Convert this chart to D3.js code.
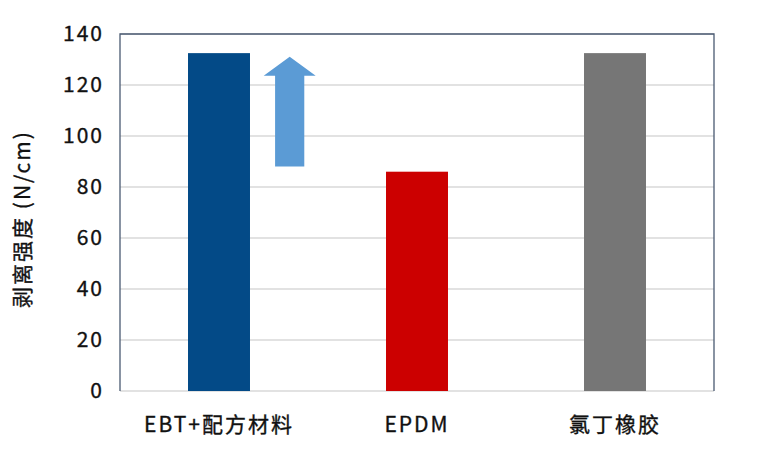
<!DOCTYPE html>
<html><head><meta charset="utf-8">
<script src="https://cdn.jsdelivr.net/npm/d3@7"></script>
<style>
body{margin:0;background:#fff;}
text{font-family:"Noto Sans CJK SC","Noto Sans",sans-serif;}
</style></head>
<body><svg id="c" width="765" height="454"></svg>
<script>
const categories = ["EBT+配方材料", "EPDM", "氯丁橡胶"];
const values = [132.5, 86, 132.5];
const barColors = ["#034a87", "#cc0000", "#767676"];
const yTicks = [0, 20, 40, 60, 80, 100, 120, 140];
const yTitle = "剥离强度 (N/cm)";
// arrow: position (in category-index units) and value range
const arrowPos = [0.357];
const arrowRange = [88, 123.6, 131.1]; // bottom, head base, tip

const svg = d3.select("#c");
const m = {l:120, t:34, r:51, b:63};
const W = 765, H = 454;
const x = d3.scaleBand().domain(categories).range([m.l, W-m.r]).paddingInner(0.687).paddingOuter(0.3435);
const y = d3.scaleLinear().domain([0,140]).range([H-m.b, m.t]);
const xi = d3.scaleLinear().domain([0, categories.length]).range([m.l, W-m.r]);
const FONT = '"Noto Sans CJK SC","Noto Sans",sans-serif';

// gridlines
svg.append("g").selectAll("line").data(yTicks).join("line")
  .attr("x1", m.l).attr("x2", W-m.r)
  .attr("y1", d=>y(d)).attr("y2", d=>y(d))
  .attr("stroke", "#d9d9d9").attr("stroke-width", 1.3);

// bars
svg.append("g").selectAll("rect").data(values).join("rect")
  .attr("x", (d,i)=>x(categories[i]))
  .attr("width", x.bandwidth())
  .attr("y", d=>y(d))
  .attr("height", d=>y(0)-y(d))
  .attr("fill", (d,i)=>barColors[i]);

// frame (left, top, right)
svg.append("path")
  .attr("d", `M${m.l},${y(0)}V${y(140)}H${W-m.r}V${y(0)}`)
  .attr("fill","none").attr("stroke","#4a5a72").attr("stroke-width",1.3);

// arrow
const ac = xi(arrowPos[0] + 0.5);
const sw = 14.6, hw = 26;
svg.append("path")
  .attr("d", `M${ac-sw},${y(arrowRange[0])}V${y(arrowRange[1])}H${ac-hw}L${ac},${y(arrowRange[2])}L${ac+hw},${y(arrowRange[1])}H${ac+sw}V${y(arrowRange[0])}Z`)
  .attr("fill", "#5b9bd5");

function styleText(sel, size){
  sel.attr("font-size", size).attr("fill", "#111").attr("letter-spacing", "2px")
    .attr("stroke", "#111").attr("stroke-width", 0.35)
    .style("font-family", FONT);
}

// y axis labels
const yAxis = d3.axisLeft(y).tickValues(yTicks).tickSize(0).tickPadding(16);
const ga = svg.append("g").attr("transform", `translate(${m.l},0)`).call(yAxis);
ga.select(".domain").remove();
styleText(ga.selectAll("text"), 21);

// x axis labels
const xAxis = d3.axisBottom(x).tickSize(0).tickPadding(26);
const gx = svg.append("g").attr("transform", `translate(0,${y(0)})`).call(xAxis);
gx.select(".domain").remove();
styleText(gx.selectAll("text"), 21);

// y title
const t = svg.append("text")
  .attr("transform", `translate(30,219) rotate(-90)`)
  .attr("text-anchor", "middle")
  .text(yTitle);
styleText(t, 21);
</script></body></html>
